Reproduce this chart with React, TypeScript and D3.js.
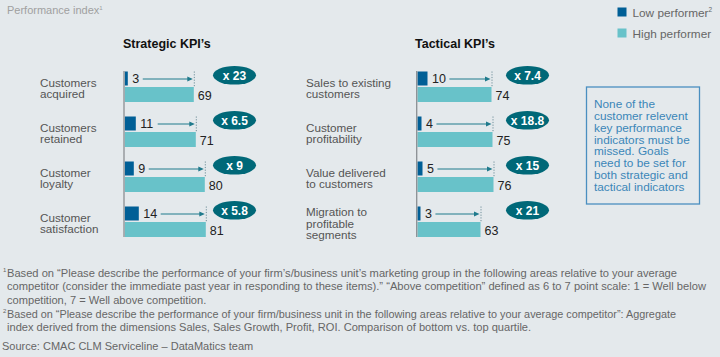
import React from "react";
import * as d3 from "d3";

const W = 720;
const H = 357;

const strategicCats: string[][] = [
  ["Customers", "acquired"],
  ["Customers", "retained"],
  ["Customer", "loyalty"],
  ["Customer", "satisfaction"],
];
const strategicLow = [3, 11, 9, 14];
const strategicHigh = [69, 71, 80, 81];
const strategicMult = ["x 23", "x 6.5", "x 9", "x 5.8"];

const tacticalCats: string[][] = [
  ["Sales to existing", "customers"],
  ["Customer", "profitability"],
  ["Value delivered", "to customers"],
  ["Migration to", "profitable", "segments"],
];
const tacticalLow = [10, 4, 5, 3];
const tacticalHigh = [74, 75, 76, 63];
const tacticalMult = ["x 7.4", "x 18.8", "x 15", "x 21"];

const legendItems = ["Low performer", "High performer"];
const noteLines = [
  "None of the",
  "customer relevent",
  "key performance",
  "indicators must be",
  "missed. Goals",
  "need to be set for",
  "both strategic and",
  "tactical indicators",
];
const footnotes: { sup: string; text: string; fit: boolean }[] = [
  { sup: "1", fit: true, text: "Based on \u201CPlease describe the performance of your firm\u2019s/business unit\u2019s marketing group in the following areas relative to your average" },
  { sup: "", fit: true, text: "competitor (consider the immediate past year in responding to these items).\u201D \u201CAbove competition\u201D defined as 6 to 7 point scale: 1 = Well below" },
  { sup: "", fit: false, text: "competition, 7 = Well above competition." },
  { sup: "2", fit: true, text: "Based on \u201CPlease describe the performance of your firm/business unit in the following areas relative to your average competitor\u201D: Aggregate" },
  { sup: "", fit: false, text: "index derived from the dimensions Sales, Sales Growth, Profit, ROI. Comparison of bottom vs. top quartile." },
];
const footnoteEnds = [677, 706, 0, 676, 0];
const sourceText = "Source: CMAC CLM Serviceline \u2013 DataMatics team";

const BG = "#e4e9ec";
const LOW = "#005f96";
const HIGH = "#68c2c9";
const ELL = "#006878";
const ARROW = "#1f7a8c";
const FONT = "'Liberation Sans', Arial, Helvetica, sans-serif";

const yBand = d3.scaleBand<number>().domain([0, 1, 2, 3]).range([71.5, 251.5]).padding(0);

type PanelProps = {
  title: string;
  titleX: number;
  cats: string[][];
  low: number[];
  high: number[];
  mult: string[];
  axisX: number;
  labelX: number;
  ellX: number;
};

function Panel({ title, titleX, cats, low, high, mult, axisX, labelX, ellX }: PanelProps) {
  const x = d3.scaleLinear().domain([0, 100]).range([axisX + 0.8, axisX + 100.8]);
  const fs = 12.5;
  const lh = 11.3;
  return (
    <g>
      <text x={titleX} y={48} fontFamily={FONT} fontWeight="bold" fontSize={12.5} fill="#111">
        {title}
      </text>
      {cats.map((lines, i) => {
        const top = yBand(i)!;
        const n = lines.length;
        const lowEnd = x(low[i]);
        const highEnd = x(high[i]);
        const lowLabelX = lowEnd + 4.5;
        const labelW = String(low[i]).length * 0.556 * fs;
        const arrowStart = lowLabelX + labelW + 3.5;
        const ay = top + 7.5;
        const arrowEnd = highEnd - 1;
        return (
          <g key={i}>
            {lines.map((l, k) => (
              <text
                key={k}
                x={labelX}
                y={top + 21 - ((n - 1) * lh) / 2 + k * lh}
                fontFamily={FONT}
                fontSize={11.7}
                fill="#555"
              >
                {l}
              </text>
            ))}
            <rect x={x(0)} y={top} width={lowEnd - x(0)} height={14} fill={LOW} />
            <rect x={x(0)} y={top + 15.5} width={highEnd - x(0)} height={15} fill={HIGH} />
            <line
              x1={highEnd + 0.5}
              x2={highEnd + 0.5}
              y1={top}
              y2={top + 15.5}
              stroke="#6f8f9a"
              strokeWidth={1}
              strokeDasharray="1.2,1.5"
            />
            <text x={lowLabelX} y={top + 11.8} fontFamily={FONT} fontSize={fs} fill="#222">
              {low[i]}
            </text>
            <line x1={arrowStart} x2={arrowEnd - 4} y1={ay} y2={ay} stroke={ARROW} strokeWidth={1} />
            <path
              d={`M${arrowEnd - 5.5},${ay - 2.5}L${arrowEnd},${ay}L${arrowEnd - 5.5},${ay + 2.5}Z`}
              fill={ARROW}
            />
            <text x={highEnd + 4} y={top + 28} fontFamily={FONT} fontSize={fs} fill="#222">
              {high[i]}
            </text>
            <ellipse cx={ellX} cy={top + 3.8} rx={21.5} ry={9.3} fill={ELL} />
            <text
              x={ellX}
              y={top + 8}
              textAnchor="middle"
              fontFamily={FONT}
              fontWeight="bold"
              fontSize={12}
              fill="#fff"
            >
              {mult[i]}
            </text>
          </g>
        );
      })}
      <line
        x1={axisX}
        x2={axisX}
        y1={yBand(0)! - 0.5}
        y2={yBand(3)! + 30.5}
        stroke="#8a8f93"
        strokeWidth={1.3}
      />
    </g>
  );
}

export default function App() {
  return (
    <svg
      width={W}
      height={H}
      style={{ position: "absolute", left: 0, top: 0, display: "block" }}
    >
      <rect x={0} y={0} width={W} height={H} fill={BG} />
      <text x={7} y={13.5} fontFamily={FONT} fontSize={11} fill="#a0a0a0">
        Performance index
        <tspan fontSize={6} dy={-4}>1</tspan>
      </text>

      {legendItems.map((t, i) => (
        <g key={t}>
          <rect x={617.5} y={7.5 + i * 21} width={9} height={9} fill={i === 0 ? LOW : HIGH} />
          <text x={632.5} y={16.5 + i * 21} fontFamily={FONT} fontSize={11.8} fill="#666">
            {t}
            {i === 0 ? <tspan fontSize={6.5} dy={-5}>2</tspan> : null}
          </text>
        </g>
      ))}

      <Panel
        title={"Strategic KPI\u2019s"}
        titleX={123}
        cats={strategicCats}
        low={strategicLow}
        high={strategicHigh}
        mult={strategicMult}
        axisX={124}
        labelX={40}
        ellX={234.5}
      />
      <Panel
        title={"Tactical KPI\u2019s"}
        titleX={415}
        cats={tacticalCats}
        low={tacticalLow}
        high={tacticalHigh}
        mult={tacticalMult}
        axisX={416.7}
        labelX={306}
        ellX={527.5}
      />

      <rect x={586.5} y={87} width={113} height={117} fill="none" stroke="#4a8fc0" strokeWidth={1.3} />
      {noteLines.map((l, i) => (
        <text key={i} x={594} y={108.3 + i * 11.77} fontFamily={FONT} fontSize={11.8} fill="#3b86b8">
          {l}
        </text>
      ))}

      {footnotes.map((f, i) => {
        const bodyX = 7;
        const fitProps = f.fit
          ? { textLength: footnoteEnds[i] - bodyX, lengthAdjust: "spacingAndGlyphs" as const }
          : {};
        return (
          <g key={i}>
            {f.sup ? (
              <text x={3} y={272} fontFamily={FONT} fontSize={6} fill="#666" transform={`translate(0, ${i * 13.7})`}>
                {f.sup}
              </text>
            ) : null}
            <text
              x={bodyX}
              y={276.5 + i * 13.7}
              fontFamily={FONT}
              fontSize={11.1}
              fill="#666"
              {...fitProps}
            >
              {f.text}
            </text>
          </g>
        );
      })}
      <text x={2} y={349.5} fontFamily={FONT} fontSize={11} fill="#666">
        {sourceText}
      </text>
    </svg>
  );
}
